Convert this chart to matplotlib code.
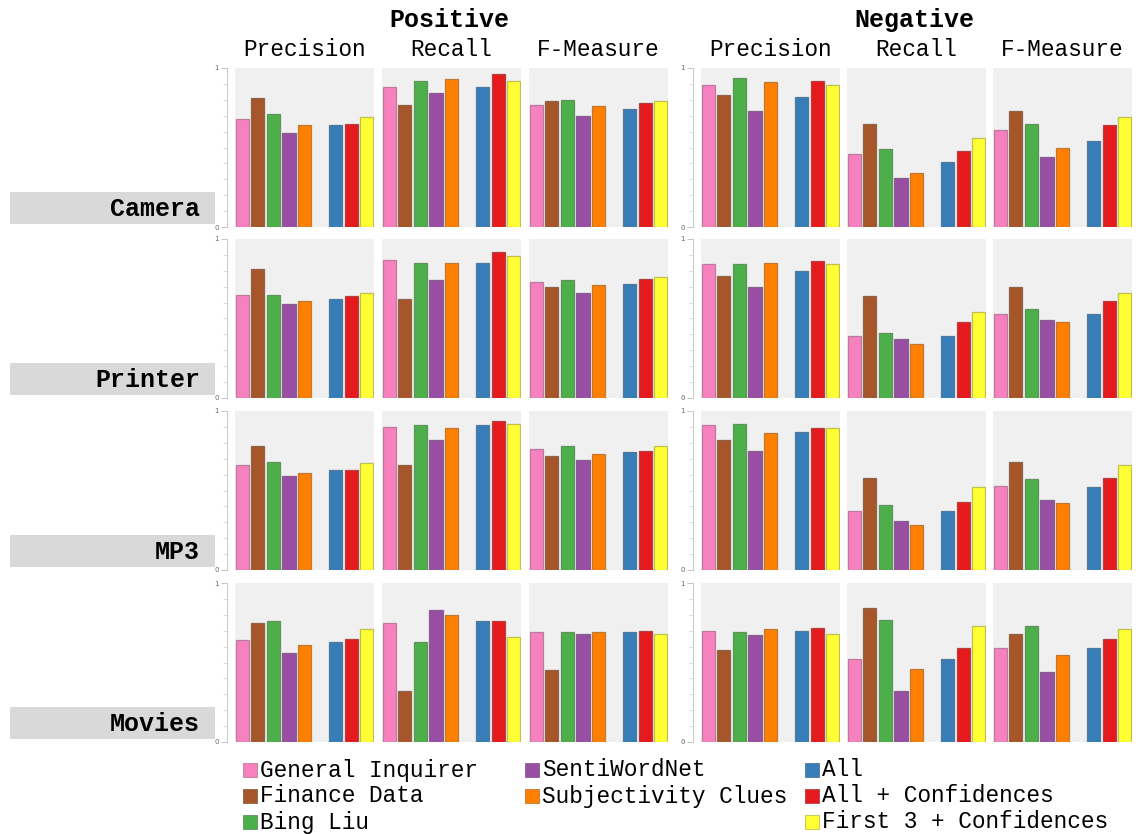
import matplotlib
matplotlib.use("Agg")
import matplotlib.pyplot as plt
import matplotlib.colors as mcolors
from matplotlib.patches import Rectangle
import numpy as np

# lexicons and combinations (legend order)
methods = ['General Inquirer', 'Finance Data', 'Bing Liu', 'SentiWordNet',
           'Subjectivity Clues', 'All', 'All + Confidences', 'First 3 + Confidences']
colors = ['#f781bf', '#a65628', '#4daf4a', '#984ea3', '#ff7f00',
          '#377eb8', '#e41a1c', '#ffff33']

datasets = ['Camera', 'Printer', 'MP3', 'Movies']
classes = ['Positive', 'Negative']
measures = ['Precision', 'Recall', 'F-Measure']

# values per dataset: [pos P, pos R, pos F, neg P, neg R, neg F], each 8 methods
camera = [
    [0.68, 0.81, 0.71, 0.59, 0.64, 0.64, 0.65, 0.69],
    [0.88, 0.77, 0.92, 0.84, 0.93, 0.88, 0.96, 0.92],
    [0.77, 0.79, 0.80, 0.70, 0.76, 0.74, 0.78, 0.79],
    [0.89, 0.83, 0.94, 0.73, 0.91, 0.82, 0.92, 0.89],
    [0.46, 0.65, 0.49, 0.31, 0.34, 0.41, 0.48, 0.56],
    [0.61, 0.73, 0.65, 0.44, 0.50, 0.54, 0.64, 0.69],
]
printer = [
    [0.65, 0.81, 0.65, 0.59, 0.61, 0.62, 0.64, 0.66],
    [0.87, 0.62, 0.85, 0.74, 0.85, 0.85, 0.92, 0.89],
    [0.73, 0.70, 0.74, 0.66, 0.71, 0.72, 0.75, 0.76],
    [0.84, 0.77, 0.84, 0.70, 0.85, 0.80, 0.86, 0.84],
    [0.39, 0.64, 0.41, 0.37, 0.34, 0.39, 0.48, 0.54],
    [0.53, 0.70, 0.56, 0.49, 0.48, 0.53, 0.61, 0.66],
]
mp3 = [
    [0.66, 0.78, 0.68, 0.59, 0.61, 0.63, 0.63, 0.67],
    [0.90, 0.66, 0.91, 0.82, 0.89, 0.91, 0.94, 0.92],
    [0.76, 0.72, 0.78, 0.69, 0.73, 0.74, 0.75, 0.78],
    [0.91, 0.82, 0.92, 0.75, 0.86, 0.87, 0.89, 0.89],
    [0.37, 0.58, 0.41, 0.31, 0.28, 0.37, 0.43, 0.52],
    [0.53, 0.68, 0.57, 0.44, 0.42, 0.52, 0.58, 0.66],
]
movies = [
    [0.64, 0.75, 0.76, 0.56, 0.61, 0.63, 0.65, 0.71],
    [0.75, 0.32, 0.63, 0.83, 0.80, 0.76, 0.76, 0.66],
    [0.69, 0.45, 0.69, 0.68, 0.69, 0.69, 0.70, 0.68],
    [0.70, 0.58, 0.69, 0.67, 0.71, 0.70, 0.72, 0.68],
    [0.52, 0.84, 0.77, 0.32, 0.46, 0.52, 0.59, 0.73],
    [0.59, 0.68, 0.73, 0.44, 0.55, 0.59, 0.65, 0.71],
]
values = [camera, printer, mp3, movies]

FONT = 'Liberation Mono'
W, H = 1136, 834
fig = plt.figure(figsize=(W / 100, H / 100), dpi=100)


def fig_rect(x, y, w, h):
    # pixel box (top-left origin) -> figure fraction
    return [x / W, 1 - (y + h) / H, w / W, h / H]


def edge_of(c):
    rgb = np.array(mcolors.to_rgb(c))
    return tuple(rgb * 0.55 + 0.45 * 0.45)


col_x = [235, 382, 529, 701, 847, 993]
row_y = [68, 239, 411, 583]
pw, ph = 139, 159

# bar positions: 5 lexicons, a gap, then 3 combinations
xpos = [0, 1, 2, 3, 4, 6, 7, 8]

for r, ds in enumerate(datasets):
    for c in range(6):
        ax = fig.add_axes(fig_rect(col_x[c], row_y[r], pw, ph))
        ax.set_facecolor('#f0f0f0')
        ax.bar(xpos, values[r][c], width=0.85, color=colors,
               edgecolor=[edge_of(k) for k in colors], linewidth=0.9)
        ax.set_xlim(-0.47, 8.47)
        ax.set_ylim(0, 1)
        ax.set_xticks([])
        for s in ['top', 'right', 'bottom']:
            ax.spines[s].set_visible(False)
        if c in (0, 3):
            ax.spines['left'].set_position(('outward', 5.5))
            ax.spines['left'].set_color('#cccccc')
            ax.spines['left'].set_linewidth(0.8)
            ax.set_yticks([0, 1])
            ax.set_yticklabels(['0', '1'])
            ax.set_yticks(np.arange(0.1, 1.0, 0.1), minor=True)
            ax.tick_params(axis='y', which='major', length=4, width=0.6,
                           color='#bbbbbb', labelsize=5, labelcolor='#666666', pad=2)
            ax.tick_params(axis='y', which='minor', length=3, width=0.5, color='#cccccc')
        else:
            ax.spines['left'].set_visible(False)
            ax.set_yticks([])
        if r == 0:
            ax.text(0.5, 1.115, measures[c % 3], transform=ax.transAxes,
                    ha='center', va='center', fontsize=16.4, family=FONT)

    # row label in a grey box
    by = row_y[r] + ph - 35
    fig.patches.append(Rectangle((10 / W, 1 - (by + 32) / H), 205 / W, 32 / H,
                                 transform=fig.transFigure, facecolor='#d9d9d9',
                                 edgecolor='none'))
    fig.text(200 / W, 1 - (by + 17) / H, ds, ha='right', va='center',
             fontsize=18, fontweight='bold', family=FONT)

# class titles
fig.text(449 / W, 1 - 20 / H, classes[0], ha='center', va='center',
         fontsize=18, fontweight='bold', family=FONT)
fig.text(914 / W, 1 - 20 / H, classes[1], ha='center', va='center',
         fontsize=18, fontweight='bold', family=FONT)

# legend laid out in three columns
leg_cols = [[0, 1, 2], [3, 4], [5, 6, 7]]
leg_x = [243, 525, 805]
for ci, idxs in enumerate(leg_cols):
    for ri, k in enumerate(idxs):
        y = 770 + ri * 26
        fig.patches.append(Rectangle((leg_x[ci] / W, 1 - (y + 7) / H), 14 / W, 14 / H,
                                     transform=fig.transFigure, facecolor=colors[k],
                                     edgecolor=edge_of(colors[k]), linewidth=0.6))
        fig.text((leg_x[ci] + 17) / W, 1 - y / H, methods[k], ha='left', va='center',
                 fontsize=16.4, family=FONT)

fig.savefig('out.png', dpi=100, facecolor='white')
